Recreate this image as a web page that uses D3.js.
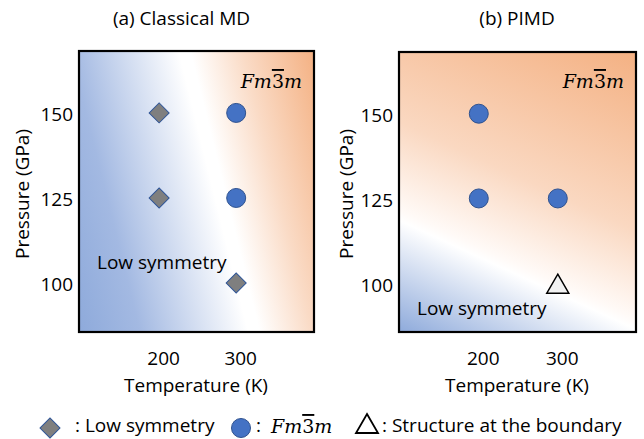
<!DOCTYPE html>
<html>
<head>
<meta charset="utf-8">
<script src="https://cdn.jsdelivr.net/npm/d3@7"></script>
<style>
  html, body { margin: 0; padding: 0; background: #fff; }
  svg { display: block; }
  text { font-family: "Open Sans", "Noto Sans", sans-serif; fill: #000; }
  .math { font-family: "DejaVu Serif", serif; font-style: italic; }
</style>
</head>
<body>
<svg id="chart" width="644" height="439"></svg>
<script>
// ---- data ----
const panelTitles = ["(a) Classical MD", "(b) PIMD"];
const xTicks = [200, 300];
const yTicks = [100, 125, 150];
const xLabel = "Temperature (K)";
const yLabel = "Pressure (GPa)";
const regionLow = "Low symmetry";
// classical MD
const mdLowT = [200, 200, 300];
const mdLowP = [150, 125, 100];
const mdFccT = [300, 300];
const mdFccP = [150, 125];
// PIMD
const pimdFccT = [200, 200, 300];
const pimdFccP = [150, 125, 125];
const pimdBoundaryT = [300];
const pimdBoundaryP = [100];
const legendLabels = [": Low symmetry", ":", ": Structure at the boundary"];

// ---- layout ----
const svg = d3.select("#chart");
const defs = svg.append("defs");
const fontSize = 19;

const panels = [
  { title: panelTitles[0], left: 79, right: 314, top: 51, bottom: 332, xDom: [96, 401],
    low: mdLowT.map((t, i) => [t, mdLowP[i]]),
    fcc: mdFccT.map((t, i) => [t, mdFccP[i]]),
    bnd: [],
    grad: { dir: [1, -0.247], white: [200, 115], blue: "#8eaadb", orange: "#f4b183" },
    lowPos: [97, 269], titleX: 181.5, yLabX: 29 },
  { title: panelTitles[1], left: 399, right: 636, top: 52, bottom: 332, xDom: [99, 399],
    low: [],
    fcc: pimdFccT.map((t, i) => [t, pimdFccP[i]]),
    bnd: pimdBoundaryT.map((t, i) => [t, pimdBoundaryP[i]]),
    grad: { dir: [0.46, -1], white: [399, 218], blue: "#8eaadb", orange: "#f4b183" },
    lowPos: [417, 315], titleX: 517, yLabX: 353 }
];

function mathLabel(sel, x, y, anchor) {
  const t = sel.append("text").attr("class", "math").attr("x", x).attr("y", y)
    .attr("text-anchor", anchor || "start").attr("font-size", 19);
  t.append("tspan").text("Fm");
  t.append("tspan").style("font-style", "normal").style("text-decoration", "overline").text("3");
  t.append("tspan").text("m");
  return t;
}

panels.forEach((p, idx) => {
  const x = d3.scaleLinear().domain(p.xDom).range([p.left, p.right]);
  const y = d3.scaleLinear().domain([85.6, 168.2]).range([p.bottom, p.top]);

  // gradient background
  const d = p.grad.dir, len = Math.hypot(d[0], d[1]);
  const u = [d[0] / len, d[1] / len];
  const corners = [[p.left, p.top], [p.right, p.top], [p.left, p.bottom], [p.right, p.bottom]];
  const proj = corners.map(c => c[0] * u[0] + c[1] * u[1]);
  const pmin = d3.min(proj), pmax = d3.max(proj);
  const pw = p.grad.white[0] * u[0] + p.grad.white[1] * u[1];
  const wOff = (pw - pmin) / (pmax - pmin);
  const g = defs.append("linearGradient").attr("id", "bg" + idx)
    .attr("gradientUnits", "userSpaceOnUse")
    .attr("x1", u[0] * pmin).attr("y1", u[1] * pmin)
    .attr("x2", u[0] * pmax).attr("y2", u[1] * pmax);
  const stops = idx === 0
    ? [[0, p.grad.blue], [wOff * 0.35, "#a3b9e2"], [wOff * 0.97, "#ffffff"], [wOff + 0.02, "#ffffff"],
       [wOff + (1 - wOff) * 0.45, "#fadbc6"], [1, p.grad.orange]]
    : [[0, p.grad.blue], [wOff * 0.98, "#ffffff"], [wOff + 0.02, "#fffaf7"],
       [wOff + (1 - wOff) * 0.35, "#fad8c1"], [1, p.grad.orange]];
  stops.forEach(s => g.append("stop").attr("offset", s[0]).attr("stop-color", s[1]));

  const pg = svg.append("g");
  pg.append("rect").attr("x", p.left).attr("y", p.top)
    .attr("width", p.right - p.left).attr("height", p.bottom - p.top)
    .attr("fill", `url(#bg${idx})`);

  // axes (labels only, no tick marks)
  const xAxis = d3.axisBottom(x).tickValues(xTicks).tickSize(0).tickPadding(0);
  const xg = pg.append("g").attr("transform", `translate(4,${p.bottom + 14})`).call(xAxis);
  xg.select(".domain").remove();
  xg.selectAll("text").attr("font-size", fontSize).attr("dy", null).attr("y", 19)
    .attr("font-family", null);

  const yAxis = d3.axisLeft(y).tickValues(yTicks).tickSize(0).tickPadding(6);
  const yg = pg.append("g").attr("transform", `translate(${p.left},0)`).call(yAxis);
  yg.select(".domain").remove();
  yg.selectAll("text").attr("font-size", fontSize).attr("dy", "0.42em").attr("font-family", null);

  // frame
  pg.append("rect").attr("x", p.left).attr("y", p.top)
    .attr("width", p.right - p.left).attr("height", p.bottom - p.top)
    .attr("fill", "none").attr("stroke", "#000").attr("stroke-width", 2.2);

  // titles
  pg.append("text").attr("x", p.titleX).attr("y", 25).attr("text-anchor", "middle")
    .attr("font-size", fontSize).text(p.title);
  pg.append("text").attr("x", (p.left + p.right) / 2 - 0.5).attr("y", 392).attr("text-anchor", "middle")
    .attr("font-size", fontSize).text(xLabel);
  pg.append("text").attr("transform", `translate(${p.yLabX},194) rotate(-90)`)
    .attr("text-anchor", "middle").attr("font-size", fontSize).text(yLabel);

  // region labels
  mathLabel(pg, p.right - 12, 88, "end");
  pg.append("text").attr("x", p.lowPos[0]).attr("y", p.lowPos[1]).attr("font-size", fontSize).text(regionLow);

  // markers
  pg.selectAll(".low").data(p.low).join("path").attr("class", "low")
    .attr("d", d3.symbol(d3.symbolSquare, 200))
    .attr("transform", v => `translate(${x(v[0])},${y(v[1])}) rotate(45)`)
    .attr("fill", "#7f7f7f").attr("stroke", "#2f5597").attr("stroke-width", 1);
  pg.selectAll(".fcc").data(p.fcc).join("circle").attr("class", "fcc")
    .attr("cx", v => x(v[0])).attr("cy", v => y(v[1])).attr("r", 9.5)
    .attr("fill", "#4472c4").attr("stroke", "#2f528f").attr("stroke-width", 1);
  pg.selectAll(".bnd").data(p.bnd).join("path").attr("class", "bnd")
    .attr("d", "M0,-10 L11,9 L-11,9 Z")
    .attr("transform", v => `translate(${x(v[0])},${y(v[1]) + 1})`)
    .attr("fill", "#f2f2f2").attr("stroke", "#000").attr("stroke-width", 1.5);
});

// legend
const ly = 432;
const lg = svg.append("g");
lg.append("path").attr("d", d3.symbol(d3.symbolSquare, 200)).attr("transform", `translate(50,${ly - 4}) rotate(45)`)
  .attr("fill", "#7f7f7f").attr("stroke", "#2f5597");
lg.append("text").attr("x", 75).attr("y", ly).attr("font-size", fontSize).text(legendLabels[0]);
lg.append("circle").attr("cx", 241).attr("cy", ly - 4).attr("r", 9.5).attr("fill", "#4472c4").attr("stroke", "#2f528f");
lg.append("text").attr("x", 256).attr("y", ly).attr("font-size", fontSize).text(legendLabels[1]);
mathLabel(lg, 271, ly + 1, "start");
lg.append("path").attr("d", "M0,-10 L11,9 L-11,9 Z").attr("transform", `translate(367,${ly - 8})`)
  .attr("fill", "#fff").attr("stroke", "#000").attr("stroke-width", 1.8);
lg.append("text").attr("x", 382).attr("y", ly).attr("font-size", fontSize).text(legendLabels[2]);
</script>
</body>
</html>
